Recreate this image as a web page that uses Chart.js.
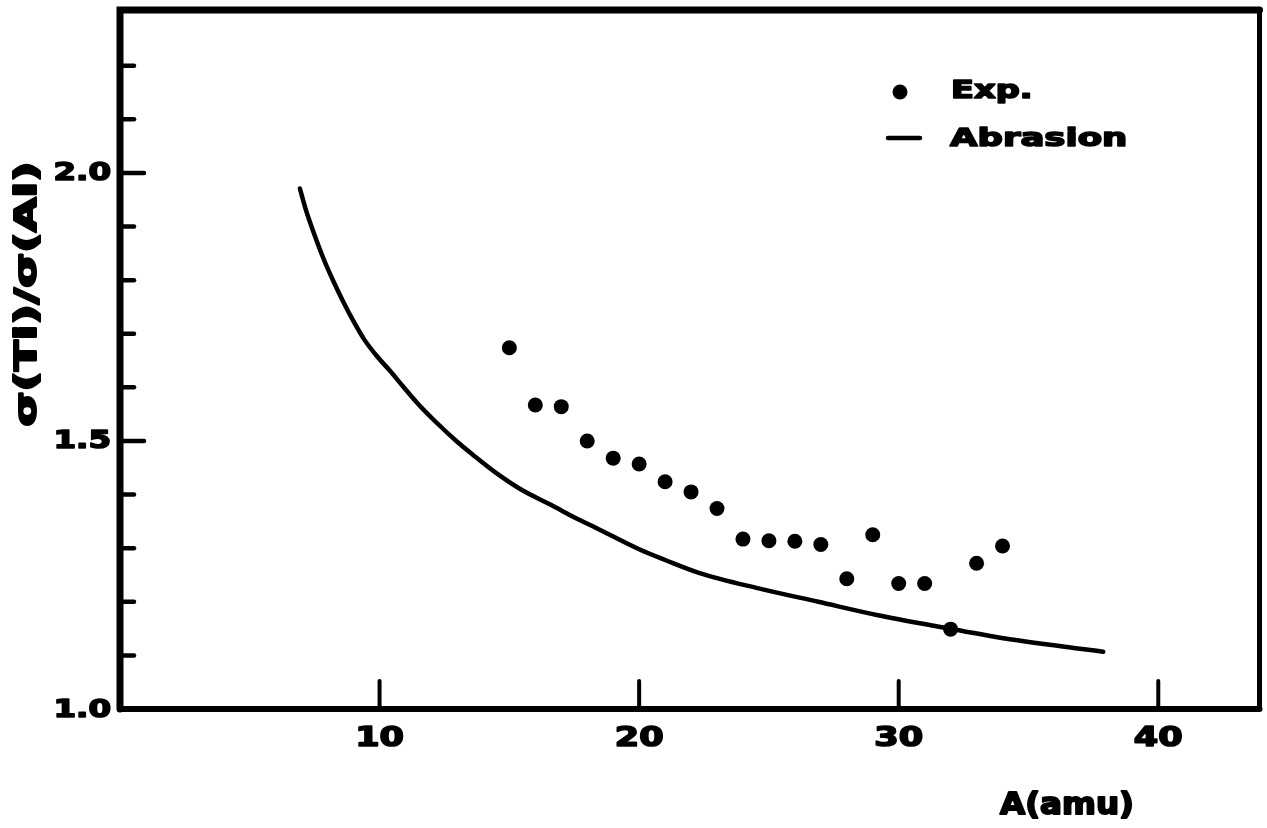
<!DOCTYPE html>
<html>
<head>
<meta charset="utf-8">
<title>sigma(Ti)/sigma(Al) vs A</title>
<script src="https://cdn.jsdelivr.net/npm/chart.js@4"></script>
<style>
  html, body { margin: 0; padding: 0; background: #fff; }
  #wrap { width: 1267px; height: 828px; }
</style>
</head>
<body>
<div id="wrap"><canvas id="ratioChart" width="1267" height="828"></canvas></div>
<script>
// --- Data ---
const expA     = [15, 16, 17, 18, 19, 20, 21, 22, 23, 24, 25, 26, 27, 28, 29, 30, 31, 32, 33, 34];
const expRatio = [1.674, 1.567, 1.564, 1.500, 1.468, 1.457, 1.424, 1.405, 1.374, 1.317,
                  1.314, 1.313, 1.307, 1.243, 1.325, 1.234, 1.234, 1.149, 1.272, 1.304];

// abrasion model curve
const abrA     = [6.93, 7.15, 7.46, 7.85, 8.23, 8.62, 9.0, 9.4, 9.9, 10.4, 10.9, 11.45, 12.2,
                  13.0, 13.6, 14.5, 15.5, 16.6, 17.4, 18.5, 20.0, 21.0, 22.3, 24.6, 26.9,
                  29.2, 31.5, 33.8, 36.9, 37.88];
const abrRatio = [1.971, 1.933, 1.889, 1.839, 1.797, 1.758, 1.723, 1.690, 1.658, 1.631, 1.602, 1.571, 1.534,
                  1.498, 1.474, 1.440, 1.408, 1.381, 1.360, 1.334, 1.298, 1.278, 1.254, 1.225, 1.200,
                  1.175, 1.154, 1.134, 1.113, 1.107];

const xTickValues = [10, 20, 30, 40];
const xTickLabels = ['10', '20', '30', '40'];
const yMinorTicks = [1.1, 1.2, 1.3, 1.4, 1.6, 1.7, 1.8, 1.9, 2.1, 2.2];
const yMajorTicks = [1.0, 1.5, 2.0];
const yTickLabels = ['1.0', '1.5', '2.0'];

const xTitle = 'A(amu)';
const yTitle = 'σ(Ti)/σ(Al)';

const INK = '#000';
const FONT = "'DejaVu Sans', sans-serif";

// wide, heavy "plotter" lettering
function wideText(ctx, text, x, y, size, stretch, align, spacing, weight) {
    ctx.save();
    ctx.font = 'bold ' + size + 'px ' + FONT;
    ctx.letterSpacing = (spacing || 0) + 'px';
    ctx.fillStyle = INK;
    ctx.strokeStyle = INK;
    ctx.lineJoin = 'round';
    ctx.lineWidth = weight === undefined ? 1.6 : weight;
    ctx.textBaseline = 'middle';
    ctx.textAlign = 'left';
    const w = ctx.measureText(text).width * stretch;
    let x0 = x;
    if (align === 'center') x0 = x - w / 2;
    if (align === 'right') x0 = x - w;
    ctx.translate(x0, y);
    ctx.scale(stretch, 1);
    ctx.fillText(text, 0, 0);
    if (ctx.lineWidth > 0) ctx.strokeText(text, 0, 0);
    ctx.restore();
}

// frame, inward ticks, labels, legend
const framePlugin = {
    id: 'framePlugin',
    afterDatasetsDraw(chart) {
        const ctx = chart.ctx;
        const xs = chart.scales.x;
        const ys = chart.scales.y;
        const a = chart.chartArea;

        ctx.save();
        ctx.strokeStyle = INK;
        ctx.lineCap = 'round';

        // frame
        ctx.lineWidth = 7;
        ctx.beginPath();
        ctx.moveTo(a.left, a.bottom); ctx.lineTo(a.left, a.top); ctx.lineTo(a.right, a.top);
        ctx.stroke();
        ctx.lineWidth = 5;
        ctx.beginPath();
        ctx.moveTo(a.right, a.top); ctx.lineTo(a.right, a.bottom);
        ctx.stroke();
        ctx.lineWidth = 6;
        ctx.beginPath();
        ctx.moveTo(a.left, a.bottom); ctx.lineTo(a.right, a.bottom);
        ctx.stroke();

        // y ticks (inward)
        ctx.lineWidth = 4.5;
        yMinorTicks.forEach(v => {
            const py = ys.getPixelForValue(v);
            ctx.beginPath(); ctx.moveTo(a.left, py); ctx.lineTo(a.left + 14, py); ctx.stroke();
        });
        yMajorTicks.forEach(v => {
            if (v === ys.min) return;
            const py = ys.getPixelForValue(v);
            ctx.beginPath(); ctx.moveTo(a.left, py); ctx.lineTo(a.left + 24, py); ctx.stroke();
        });

        // x ticks (inward, pointing up)
        ctx.lineWidth = 4;
        xTickValues.forEach(v => {
            const px = xs.getPixelForValue(v);
            ctx.beginPath(); ctx.moveTo(px, a.bottom); ctx.lineTo(px, a.bottom - 28); ctx.stroke();
        });
        ctx.restore();

        // tick labels
        yMajorTicks.forEach((v, i) => {
            wideText(ctx, yTickLabels[i], a.left - 9, ys.getPixelForValue(v) + 1, 25, 1.3, 'right');
        });
        xTickValues.forEach((v, i) => {
            wideText(ctx, xTickLabels[i], xs.getPixelForValue(v), a.bottom + 30, 26, 1.35, 'center');
        });

        // axis titles
        wideText(ctx, xTitle, 1000, 806, 31, 1.05, 'left', 0, 2);
        ctx.save();
        ctx.translate(28, 294);
        ctx.rotate(-Math.PI / 2);
        wideText(ctx, yTitle, 0, 0, 30, 1.5, 'center', 0, 2);
        ctx.restore();

        // legend
        const dsExp = chart.data.datasets[0];
        const dsAbr = chart.data.datasets[1];
        ctx.save();
        ctx.fillStyle = INK;
        ctx.beginPath(); ctx.arc(900, 92, 7.5, 0, Math.PI * 2); ctx.fill();
        ctx.strokeStyle = INK; ctx.lineWidth = 4.5; ctx.lineCap = 'round';
        ctx.beginPath(); ctx.moveTo(888, 138); ctx.lineTo(920, 138); ctx.stroke();
        ctx.restore();
        wideText(ctx, dsExp.label, 951, 92, 24, 1.4, 'left');
        wideText(ctx, dsAbr.label, 950, 139, 25, 1.42, 'left');
    }
};

const expPoints = expA.map((a, i) => ({ x: a, y: expRatio[i] }));
const abrPoints = abrA.map((a, i) => ({ x: a, y: abrRatio[i] }));

new Chart(document.getElementById('ratioChart').getContext('2d'), {
    type: 'scatter',
    data: {
        datasets: [{
            label: 'Exp.',
            data: expPoints,
            pointRadius: 7.5,
            pointBackgroundColor: INK,
            pointBorderWidth: 0,
            showLine: false
        }, {
            label: 'Abrasion',
            data: abrPoints,
            showLine: true,
            borderColor: INK,
            borderWidth: 4.5,
            borderCapStyle: 'round',
            pointRadius: 0,
            cubicInterpolationMode: 'monotone',
            fill: false
        }]
    },
    options: {
        responsive: false,
        animation: false,
        layout: { padding: { left: 120, top: 10, right: 5, bottom: 119 } },
        plugins: {
            legend: { display: false },
            tooltip: { enabled: false }
        },
        scales: {
            x: { type: 'linear', min: 0, max: 43.9, display: false },
            y: { type: 'linear', min: 1.0, max: 2.304, display: false }
        }
    },
    plugins: [framePlugin]
});
</script>
</body>
</html>
